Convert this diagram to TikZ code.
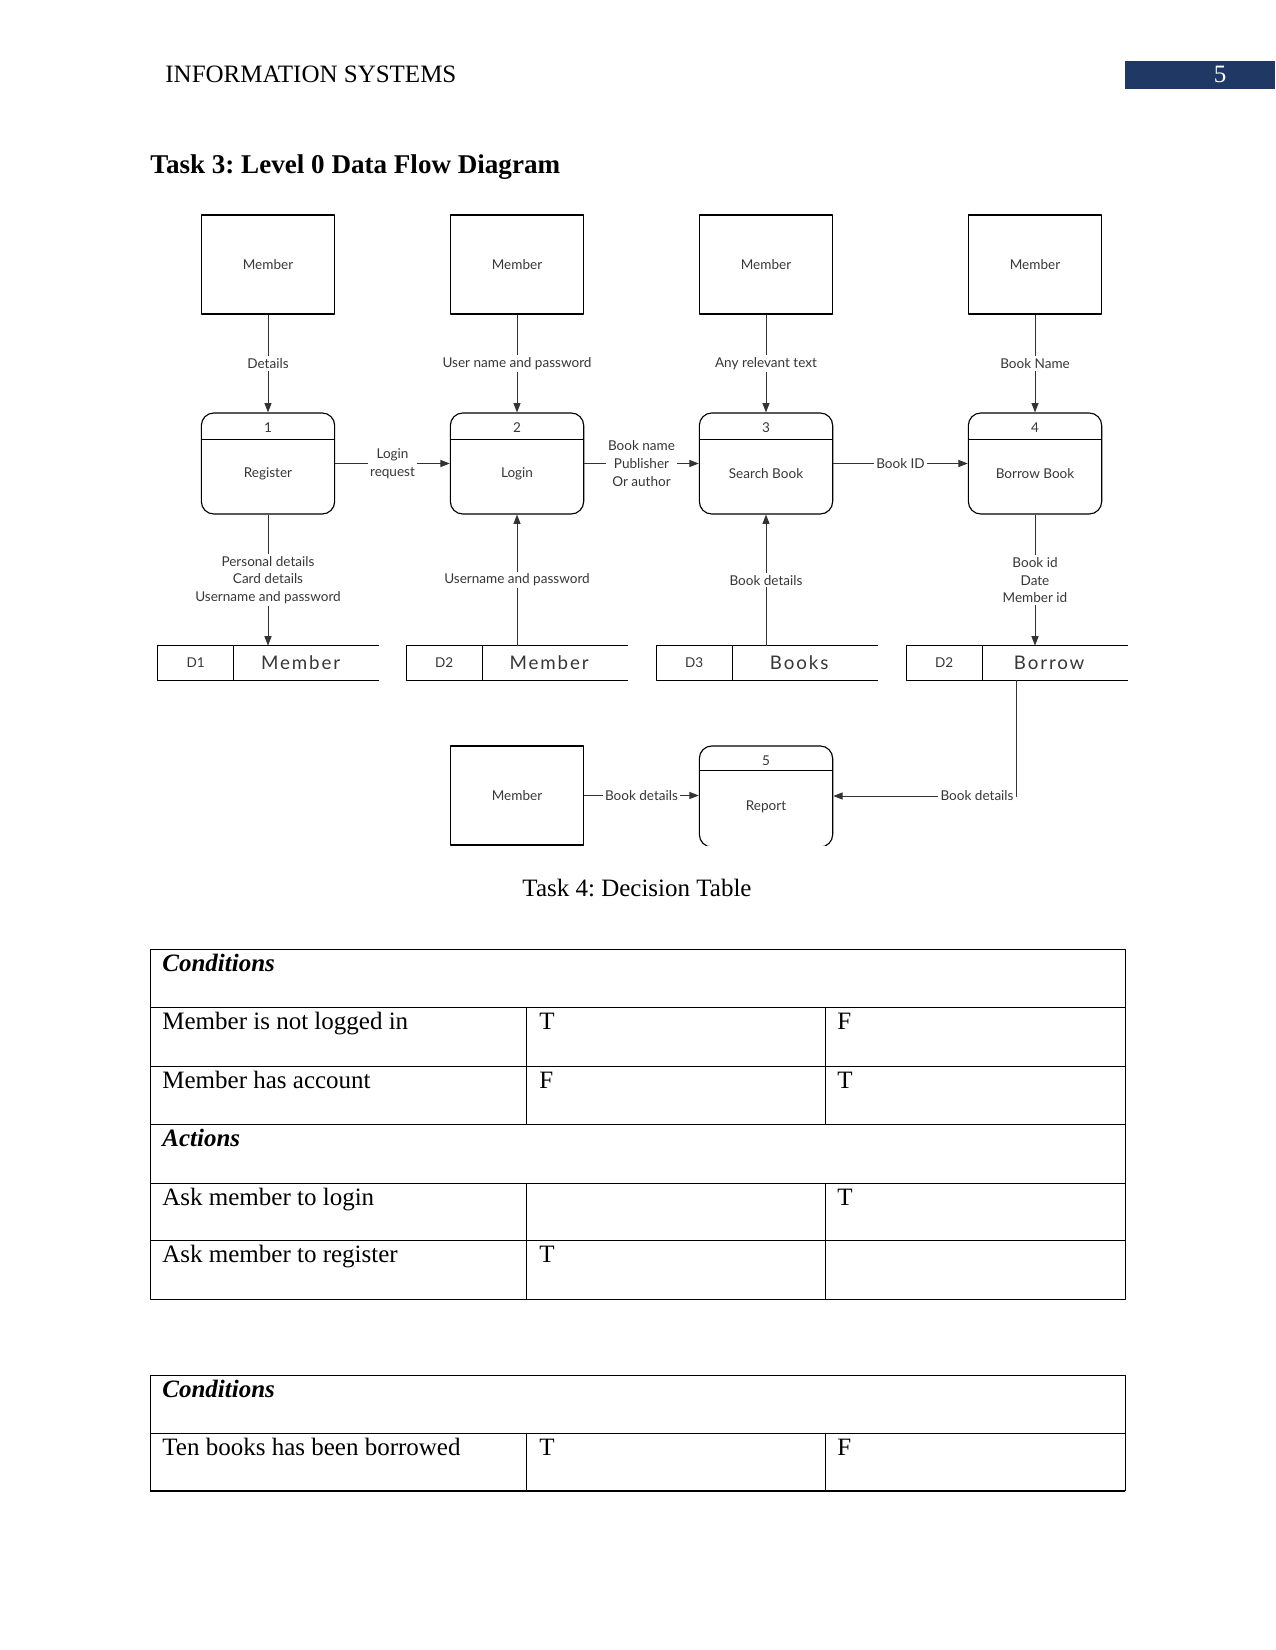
\documentclass[tikz,border=0pt]{standalone}
\usepackage{fontspec}
\setmainfont{Liberation Serif}
\newfontfamily\dfdfont{Lato}
\newfontfamily\storefont[LetterSpace=10]{Lato}
\usepackage{tikz}
\usetikzlibrary{arrows.meta,calc,positioning}
\definecolor{headblue}{RGB}{31,56,100}
\definecolor{dfdgrey}{RGB}{55,55,55}
\frenchspacing

\begin{document}
\begin{tikzpicture}[x=0.48pt,y=-0.48pt,>={Triangle[length=4.5pt,width=3.4pt]},
    line join=round,
    entity/.style={draw,line width=.55pt,minimum width=64pt,minimum height=47.5pt,
      font=\dfdfont\fontsize{6.5}{8}\selectfont,text=dfdgrey},
    process/.style={draw,line width=.55pt,rounded corners=6pt,minimum width=64pt,
      minimum height=48.5pt},
    store/.style={minimum width=106pt,minimum height=16.3pt,inner sep=0pt},
    dfdtext/.style={font=\dfdfont\fontsize{6.5}{8.5}\selectfont,text=dfdgrey,
      align=center},
    flowlabel/.style={dfdtext,fill=white,inner sep=1pt},
    storeid/.style={font=\dfdfont\fontsize{6.5}{8}\selectfont,text=dfdgrey},
    storename/.style={font=\storefont\fontsize{9}{10}\selectfont,text=dfdgrey},
    flow/.style={->,line width=.4pt,draw=black!80},
    cell/.style={anchor=base west,inner sep=0pt,font=\fontsize{12}{14}\selectfont},
    rule/.style={line width=.4pt}]
    \useasboundingbox (0,0) rectangle (1275,1650);

    % Running head and heading.
    \fill[headblue] (1125,61) rectangle (1275,89);
    \node[cell] (head) at (165,83) {INFORMATION SYSTEMS};
    \node[cell,anchor=base,text=white] (pageno) at (1220,83) {5};
    \node[cell,font=\fontsize{13}{15}\selectfont\bfseries] (title) at (150,174)
      {Task 3: Level 0 Data Flow Diagram};

    % External entities.
    \node[entity] (m1) at (268,264.5) {Member};
    \node[entity] (m2) at (517,264.5) {Member};
    \node[entity] (m3) at (766,264.5) {Member};
    \node[entity] (m4) at (1035,264.5) {Member};

    % Processes with their number bar.
    \node[process] (p1) at (268,463.5) {};
    \node[process] (p2) at (517,463.5) {};
    \node[process] (p3) at (766,463.5) {};
    \node[process] (p4) at (1035,463.5) {};
    \foreach \p/\name in {p1/Register,p2/Login,p3/Search Book,p4/Borrow Book}{
      \draw[line width=.55pt] ($(\p.north west)+(0,27)$) -- ($(\p.north east)+(0,27)$);
      \node[dfdtext] (\p name) at ($(\p.center)+(0,10.5)$) {\name};
    }
    \node[dfdtext,below=1.5pt of p1.north] (p1no) {1};
    \node[dfdtext,below=1.5pt of p2.north] (p2no) {2};
    \node[dfdtext,below=1.5pt of p3.north] (p3no) {3};
    \node[dfdtext,below=1.5pt of p4.north] (p4no) {4};

    % Data stores, open on the right.
    \node[store] (s1) at (268.5,663) {};
    \node[store] (s2) at (517,663) {};
    \node[store] (s3) at (767,663) {};
    \node[store] (s4) at (1017,663) {};
    \foreach \s in {s1,s2,s3,s4}{
      \draw[line width=.55pt] (\s.north east) -- (\s.north west) -- (\s.south west)
        -- (\s.south east);
      \draw[line width=.55pt] ($(\s.north west)+(76,0)$) -- ($(\s.south west)+(76,0)$);
    }
    \node[storeid] (s1id) at ($(s1.west)+(38,0)$) {D1};
    \node[storename] (s1nm) at ($(s1.west)+(143,0)$) {Member};
    \node[storeid] (s2id) at ($(s2.west)+(38,0)$) {D2};
    \node[storename] (s2nm) at ($(s2.west)+(143,0)$) {Member};
    \node[storeid] (s3id) at ($(s3.west)+(38,0)$) {D3};
    \node[storename] (s3nm) at ($(s3.west)+(143,0)$) {Books};
    \node[storeid] (s4id) at ($(s4.west)+(38,0)$) {D2};
    \node[storename] (s4nm) at ($(s4.west)+(143,0)$) {Borrow};

    % Flows from the members.
    \draw[flow] (m1) -- node[flowlabel] (f1) {Details} (p1);
    \draw[flow] (m2) -- node[flowlabel] (f2) {User name and password} (p2);
    \draw[flow] (m3) -- node[flowlabel] (f3) {Any relevant text} (p3);
    \draw[flow] (m4) -- node[flowlabel] (f4) {Book Name} (p4);

    % Flows between the processes.
    \draw[flow] (p1) -- node[flowlabel] (f5) {Login\\request} (p2);
    \draw[flow] (p2) -- node[flowlabel] (f6) {Book name\\Publisher\\Or author} (p3);
    \draw[flow] (p3) -- node[flowlabel] (f7) {Book ID} (p4);

    % Flows to and from the stores.
    \draw[flow] (p1.south) -- node[flowlabel] (f8)
      {Personal details\\Card details\\Username and password} (p1.south |- s1.north);
    \draw[flow] (p2.south |- s2.north) -- node[flowlabel] (f9)
      {Username and password} (p2.south);
    \draw[flow] (p3.south |- s3.north) -- node[flowlabel] (f10)
      {Book details} (p3.south);
    \draw[flow] (p4.south) -- node[flowlabel] (f11)
      {Book id\\Date\\Member id} (p4.south |- s4.north);

    % Report row, cut off at the bottom.
    \begin{scope}
      \clip (0,700) rectangle (1275,845);
      \node[entity] (m5) at (517,795.5) {Member};
      \node[process] (p5) at (766,796.5) {};
      \draw[line width=.55pt] ($(p5.north west)+(0,25)$) -- ($(p5.north east)+(0,25)$);
    \end{scope}
    \node[dfdtext,below=1.5pt of p5.north] (p5no) {5};
    \node[dfdtext] (p5name) at ($(p5.center)+(0,10.5)$) {Report};
    \draw[flow] (m5.east) -- node[flowlabel] (f12) {Book details} (m5.east -| p5.west);
    \coordinate (bend) at (1016,796);
    \draw[flow] (s4.south -| bend) -- (bend) -- (bend -| p5.east);
    \node[flowlabel,anchor=east] (f13) at (bend) {Book details};

    % Decision tables.
    \node[cell,anchor=base] (task4) at (637,896) {Task 4: Decision Table};
    \draw[rule] (150,949) rectangle (1125,1299);
    \foreach \y in {1007,1066,1124,1183,1240}
      \draw[rule] (150,\y) -- (1125,\y);
    \draw[rule] (526,1007) -- (526,1124);
    \draw[rule] (825,1007) -- (825,1124);
    \draw[rule] (526,1183) -- (526,1299);
    \draw[rule] (825,1183) -- (825,1299);
    \node[cell,font=\fontsize{12}{14}\selectfont\bfseries\itshape] (c1) at (162,971) {Conditions};
    \node[cell] (r1) at (162,1029) {Member is not logged in};
    \node[cell] (r1a) at (539,1029) {T};
    \node[cell] (r1b) at (837,1029) {F};
    \node[cell] (r2) at (162,1088) {Member has account};
    \node[cell] (r2a) at (539,1088) {F};
    \node[cell] (r2b) at (837,1088) {T};
    \node[cell,font=\fontsize{12}{14}\selectfont\bfseries\itshape] (a1) at (162,1146) {Actions};
    \node[cell] (r3) at (162,1205) {Ask member to login};
    \node[cell] (r3b) at (837,1205) {T};
    \node[cell] (r4) at (162,1262) {Ask member to register};
    \node[cell] (r4a) at (539,1262) {T};

    \draw[rule] (150,1491) -- (150,1375) -- (1125,1375) -- (1125,1491);
    \draw[rule] (150,1433) -- (1125,1433);
    \draw[rule] (526,1433) -- (526,1491);
    \draw[rule] (825,1433) -- (825,1491);
    \draw[line width=1.3pt] (150,1491) -- (1125,1491);
    \node[cell,font=\fontsize{12}{14}\selectfont\bfseries\itshape] (c2) at (162,1397) {Conditions};
    \node[cell] (r5) at (162,1455) {Ten books has been borrowed};
    \node[cell] (r5a) at (539,1455) {T};
    \node[cell] (r5b) at (837,1455) {F};
  \end{tikzpicture}
\end{document}
